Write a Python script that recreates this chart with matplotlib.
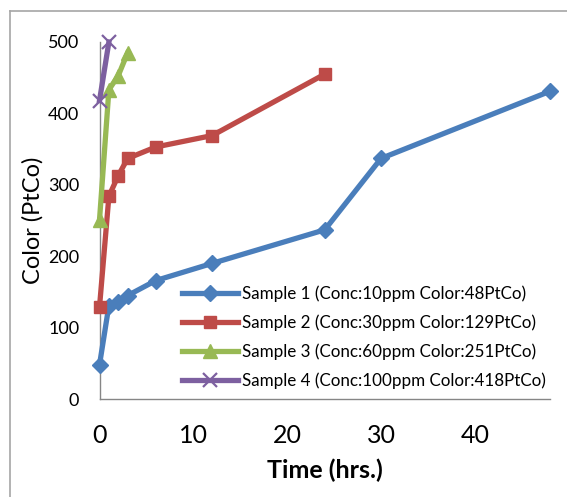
import matplotlib
matplotlib.use("Agg")
import matplotlib.pyplot as plt
from matplotlib.lines import Line2D

plt.rcParams['font.family'] = ['Lato', 'DejaVu Sans']

# data
t1 = [0, 1, 2, 3, 6, 12, 24, 30, 48]
c1 = [48, 131, 136, 145, 166, 190, 237, 337, 431]
t2 = [0, 1, 2, 3, 6, 12, 24]
c2 = [129, 284, 313, 337, 353, 369, 455]
t3 = [0, 1, 2, 3]
c3 = [251, 433, 453, 485]
t4 = [0, 1]
c4 = [418, 500]
labels = ['Sample 1 (Conc:10ppm Color:48PtCo)',
          'Sample 2 (Conc:30ppm Color:129PtCo)',
          'Sample 3 (Conc:60ppm Color:251PtCo)',
          'Sample 4 (Conc:100ppm Color:418PtCo)']

fig = plt.figure(figsize=(5.67, 4.97), dpi=100)
ax = fig.add_axes([0.1755, 0.197, 0.7945, 0.7185])

ax.plot(t1, c1, color='#4A7EBB', lw=3.8, marker='D', ms=8, label=labels[0], clip_on=False)
ax.plot(t2, c2, color='#BE4B48', lw=3.8, marker='s', ms=8.5, label=labels[1], clip_on=False)
ax.plot(t3, c3, color='#98B954', lw=3.8, marker='^', ms=10, label=labels[2], clip_on=False)
ax.plot(t4, c4, color='#7D60A0', lw=3.8, marker='x', ms=10, mew=1.6, label=labels[3], clip_on=False)

ax.set_xlim(0, 48)
ax.set_ylim(0, 500)
ax.set_xticks([0, 10, 20, 30, 40])
ax.set_yticks([0, 100, 200, 300, 400, 500])
ax.tick_params(axis='x', length=0, pad=18, labelsize=18)
ax.tick_params(axis='y', length=0, pad=14.5, labelsize=13)
for s in ['top', 'right']:
    ax.spines[s].set_visible(False)
for s in ['left', 'bottom']:
    ax.spines[s].set_color('#868686')
    ax.spines[s].set_linewidth(1.0)
    ax.spines[s].set_zorder(0)

ax.set_xlabel('Time (hrs.)', fontsize=18, fontweight='bold', labelpad=8)
ax.set_ylabel('Color (PtCo)', fontsize=17, labelpad=3)

ax.legend(loc='upper left', bbox_to_anchor=(0.183, 0.318), frameon=False,
          fontsize=12.25, handlelength=3.3, handletextpad=0.25, labelspacing=0.72,
          borderpad=0, borderaxespad=0, numpoints=1)

# outer chart border (cropped at right and bottom)
x0 = 10 / 567
y0 = 1 - 11 / 497
fig.add_artist(Line2D([x0, x0], [0, y0], color='#A6A6A6', lw=1.2))
fig.add_artist(Line2D([x0, 1], [y0, y0], color='#A6A6A6', lw=1.2))

fig.savefig('out.png', dpi=100)
